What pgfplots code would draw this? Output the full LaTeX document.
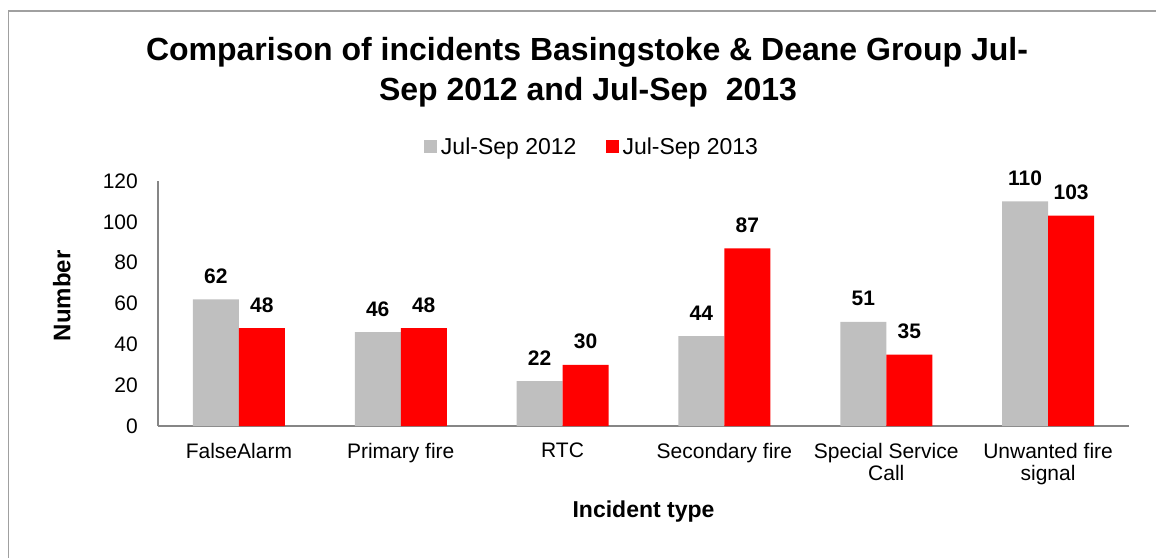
\documentclass[border=0pt]{standalone}
\usepackage{pgfplots}
\pgfplotsset{compat=1.18}
\usepackage{fontspec}
\setmainfont{Liberation Sans}
\definecolor{barGray}{RGB}{191,191,191}
\definecolor{barRed}{RGB}{255,0,0}
\definecolor{axisGray}{RGB}{134,134,134}
\definecolor{frameGray}{RGB}{160,160,160}

\begin{document}
\begin{tikzpicture}
% axis origin sits at (0,0); page is 1156 x 558 pt around it
\useasboundingbox (-158pt,-132pt) rectangle (998pt,426pt);
% outer frame (only top and left show)
\draw[frameGray, line width=1.5pt] (-149.5pt,-132pt) -- (-149.5pt,415pt) -- (998pt,415pt);
% title
\node[anchor=base, inner sep=0pt, font=\fontsize{32}{38}\selectfont\bfseries] at (429pt,365pt)
  {Comparison of incidents Basingstoke \& Deane Group Jul-};
\node[anchor=base, inner sep=0pt, font=\fontsize{32}{38}\selectfont\bfseries] at (430pt,326pt)
  {Sep 2012 and Jul-Sep\ \ 2013};

\begin{axis}[
    scale only axis, width=971pt, height=245pt,
    ymin=0, ymax=120, ytick={0,20,...,120},
    xmin=-0.5, xmax=5.5, xtick={0,...,5},
    xticklabels={FalseAlarm, Primary fire, RTC, Secondary fire,
      {Special Service\\Call}, {Unwanted fire\\signal}},
    axis x line*=bottom, axis y line*=left,
    axis line style={axisGray, line width=1.5pt},
    major tick length=0pt,
    /pgf/number format/assume math mode=true,
    tick label style={font=\fontsize{21}{22}\selectfont},
    yticklabel style={anchor=east, inner sep=0pt, xshift=-20pt},
    xticklabel style={anchor=north, inner sep=0pt, yshift=-17pt, align=center},
    xlabel={Incident type},
    xlabel style={at={(axis description cs:0.5,-0.351)}, anchor=center,
      font=\fontsize{23}{26}\selectfont\bfseries},
    ylabel={Number},
    ylabel style={at={(axis description cs:-0.099,0.531)}, anchor=center,
      font=\fontsize{24}{26}\selectfont\bfseries},
    ybar=0pt, bar width=46pt,
    nodes near coords,
    every node near coord/.append style={anchor=south, inner sep=0pt, yshift=15.5pt,
      font=\fontsize{21}{24}\selectfont\bfseries},
    clip=false,
    legend columns=2,
    legend image code/.code={\fill[#1] (-4pt,-6.5pt) rectangle (9pt,6.5pt);},
    legend style={at={(axis description cs:0.448,1.14)}, anchor=center, draw=none,
      font=\fontsize{23}{26}\selectfont, nodes={inner sep=3.5pt},
      /tikz/every even column/.append style={column sep=26pt}},
  ]
  \addplot[fill=barGray, draw=none] coordinates {
    (0,62) (1,46) (2,22) (3,44) (4,51) (5,110)
  };
  \addplot[fill=barRed, draw=none] coordinates {
    (0,48) (1,48) (2,30) (3,87) (4,35) (5,103)
  };
  \legend{Jul-Sep 2012, Jul-Sep 2013}
\end{axis}
\end{tikzpicture}
\end{document}
